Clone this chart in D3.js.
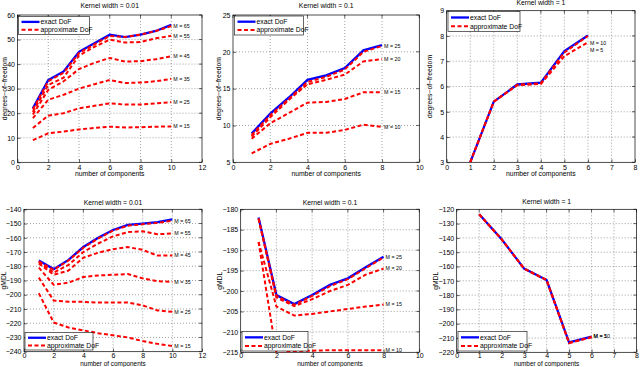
<!DOCTYPE html>
<html><head><meta charset="utf-8">
<script src="https://cdn.jsdelivr.net/npm/d3@7"></script>
<style>
body{margin:0;background:#fff;}
text{font-family:"Liberation Sans",Arial,sans-serif;fill:#000;}
</style></head>
<body><svg id="c" width="640" height="367"></svg>
<script>
// ---------- DATA ----------
const comps10 = [1,2,3,4,5,6,7,8,9,10];
const comps8 = [1,2,3,4,5,6,7,8];
const comps6 = [1,2,3,4,5,6];

// Panel 1: DoF, kernel width 0.01
const dof001Exact = [22, 33.5, 37, 45, 48.5, 52, 51, 52, 53.5, 56];
const dof001M65 = [21.5, 33, 36.5, 44.5, 48, 51.5, 51, 52, 53.5, 55.5];
const dof001M55 = [20.5, 31.5, 34.5, 43.5, 47, 50, 48.8, 49, 50.5, 51.5];
const dof001M45 = [19.5, 29.5, 33, 38, 40.5, 42.5, 41, 41.2, 42, 43.2];
const dof001M35 = [18, 25.5, 27.5, 30, 31.8, 33.5, 32.3, 32.5, 33, 34];
const dof001M25 = [14, 19, 20, 22, 23, 24, 23.5, 23.5, 24, 24.5];
const dof001M15 = [9, 11.8, 12.5, 13.4, 14, 14.5, 14.2, 14.3, 14.5, 14.6];
const labels001 = ["M = 65","M = 55","M = 45","M = 35","M = 25","M = 15"];

// Panel 2: DoF, kernel width 0.1
const dof01Exact = [8.9, 11.6, 13.8, 16.2, 16.8, 17.8, 20.2, 20.9];
const dof01M25 = [8.7, 11.4, 13.6, 15.9, 16.6, 17.6, 20.0, 20.8];
const dof01M20 = [8.5, 11.1, 13.5, 15.6, 16.2, 16.9, 18.7, 19.0];
const dof01M15 = [8.2, 10.3, 11.7, 13.1, 13.2, 13.6, 14.5, 14.5];
const dof01M10 = [6.2, 7.5, 8.2, 9.0, 9.0, 9.4, 10.1, 9.8];
const labels01 = ["M = 25","M = 20","M = 15","M = 10"];

// Panel 3: DoF, kernel width 1
const dof1Exact = [3, 5.4, 6.08, 6.15, 7.4, 8.02];
const dof1M10 = [3, 5.4, 6.07, 6.13, 7.35, 8.0];
const dof1M5 = [3, 5.4, 6.05, 6.1, 7.2, 7.75];

// Panel 4: gMDL, kernel width 0.01
const g001Exact = [-176, -182, -175.5, -166.5, -160, -154.5, -151, -150, -149, -147];
const g001M65 = [-176.5, -182.5, -176, -167, -160.5, -155, -151.5, -150.5, -149.5, -148];
const g001M55 = [-177, -184.5, -179, -170, -164, -159, -156, -155.5, -157.5, -157];
const g001M45 = [-178, -186, -183, -174, -170.5, -168, -166.5, -168.5, -172.5, -172.5];
const g001M35 = [-181, -193, -191.5, -187.5, -186.5, -186, -185.5, -188.5, -190.5, -191];
const g001M25 = [-188, -204, -205, -205, -205.5, -205.5, -205.5, -207.5, -211, -212];
const g001M15 = [-199, -219.5, -223, -225, -227, -228.5, -230, -232.5, -234.5, -236];

// Panel 5: gMDL, kernel width 0.1
const g01Exact = [-182, -201, -203.2, -201, -198.5, -196.9, -194.2, -191.6];
const g01M25 = [-182.2, -201.2, -203.4, -201.2, -198.8, -197.1, -194.4, -191.8];
const g01M20 = [-182.4, -201.6, -203.7, -202, -200, -198.5, -196, -194.5];
const g01M15 = [-188, -203.8, -206, -205.6, -205, -204.4, -203.8, -203.3];
const g01M10 = [-188, -215.4, -214.7, -214.6, -214.5, -214.5, -214.5, -214.5];

// Panel 6: gMDL, kernel width 1
const g1Exact = [-123.5, -141, -161.5, -169.5, -213, -209];
const g1M10 = [-123.5, -141, -161.5, -169.5, -213.5, -209.3];
const g1M5 = [-123.5, -141, -161.5, -169.5, -213.5, -209.5];

const titles = ["Kernel width = 0.01","Kernel width = 0.1","Kernel width = 1"];
const xLabel = "number of components";
const yLabelTop = "degrees\u2212of\u2212freedom";
const yLabelBottom = "gMDL";
const legendLabels = ["exact DoF","approximate DoF"];

// ---------- DRAW ----------
const svg = d3.select("#c");
const BLUE = "#0000ff", RED = "#ff0000";
let clipId = 0;

function panel(o){
  const x = d3.scaleLinear().domain(o.xd).range([o.x0, o.x1]);
  const y = d3.scaleLinear().domain(o.yd).range([o.y1, o.y0]);
  const g = svg.append("g");
  const xt = d3.range(o.xd[0], o.xd[1] + 1e-9, o.xs);
  const yt = d3.range(o.yd[0], o.yd[1] + 1e-9, o.ys);
  // grid
  g.selectAll(".gx").data(xt.slice(1,-1)).join("line")
    .attr("x1", d=>x(d)).attr("x2", d=>x(d)).attr("y1", o.y0).attr("y2", o.y1)
    .attr("stroke","#444").attr("stroke-width",0.5).attr("stroke-dasharray","1,2");
  g.selectAll(".gy").data(yt.slice(1,-1)).join("line")
    .attr("y1", d=>y(d)).attr("y2", d=>y(d)).attr("x1", o.x0).attr("x2", o.x1)
    .attr("stroke","#444").attr("stroke-width",0.5).attr("stroke-dasharray","1,2");
  // axes (ticks inward)
  const fmt = d => d3.format("")(d).replace("-", "\u2212");
  const ax = g.append("g").attr("transform",`translate(0,${o.y1})`)
    .call(d3.axisBottom(x).tickValues(xt).tickSize(-3).tickPadding(o.xPad).tickFormat(fmt));
  const ay = g.append("g").attr("transform",`translate(${o.x0},0)`)
    .call(d3.axisLeft(y).tickValues(yt).tickSize(-3).tickPadding(2.5).tickFormat(fmt));
  [ax, ay].forEach(a=>{
    a.select(".domain").remove();
    a.selectAll("line").attr("stroke","#000").attr("stroke-width",0.6);
    a.selectAll("text").attr("font-size",7).attr("font-family","Liberation Sans, Arial, sans-serif");
  });
  // top/right ticks
  g.selectAll(".tt").data(xt).join("line")
    .attr("x1", d=>x(d)).attr("x2", d=>x(d)).attr("y1", o.y0).attr("y2", o.y0+3)
    .attr("stroke","#000").attr("stroke-width",0.6);
  g.selectAll(".tr").data(yt).join("line")
    .attr("y1", d=>y(d)).attr("y2", d=>y(d)).attr("x1", o.x1).attr("x2", o.x1-3)
    .attr("stroke","#000").attr("stroke-width",0.6);
  // box
  g.append("rect").attr("x",o.x0).attr("y",o.y0).attr("width",o.x1-o.x0).attr("height",o.y1-o.y0)
    .attr("fill","none").attr("stroke","#000").attr("stroke-width",0.7);
  // clip
  const cid = "clip"+(clipId++);
  svg.append("clipPath").attr("id",cid).append("rect")
    .attr("x",o.x0).attr("y",o.y0).attr("width",o.x1-o.x0).attr("height",o.y1-o.y0);
  const lg = g.append("g").attr("clip-path",`url(#${cid})`);
  const line = d3.line().x((d,i)=>x(o.xs_data[i])).y(d=>y(d));
  lg.append("path").attr("d", line(o.exact)).attr("fill","none")
    .attr("stroke",BLUE).attr("stroke-width",2.3);
  o.approx.forEach(s=>{
    lg.append("path").attr("d", line(s)).attr("fill","none")
      .attr("stroke",RED).attr("stroke-width",2).attr("stroke-dasharray","4,2.5");
  });
  // end labels
  const lastX = o.xs_data[o.xs_data.length-1];
  o.labels.forEach((lab,i)=>{
    const s = o.approx[i];
    const yy = o.labelY ? o.labelY[i] : y(s[s.length-1]);
    g.append("text").attr("x", x(lastX)+2).attr("y", yy).attr("dy","0.35em")
      .attr("font-size",5.3).text(lab);
  });
  // title, labels
  g.append("text").attr("x",(o.x0+o.x1)/2).attr("y",o.titleY).attr("text-anchor","middle")
    .attr("dy","0.35em").attr("font-size",6.8).text(o.title);
  g.append("text").attr("x",(o.x0+o.x1)/2).attr("y",o.y1+o.xlOff).attr("text-anchor","middle")
    .attr("dy","0.35em").attr("font-size",o.xlFs).text(xLabel);
  g.append("text").attr("transform",`translate(${o.ylx},${(o.y0+o.y1)/2}) rotate(-90)`)
    .attr("text-anchor","middle").attr("dy","0.35em").attr("font-size",6.8).text(o.ylab);
  // legend
  const L = o.leg;
  g.append("rect").attr("x",L[0]).attr("y",L[1]).attr("width",L[2]).attr("height",L[3])
    .attr("fill","#fff").attr("stroke","#000").attr("stroke-width",0.6);
  const r1 = L[1]+L[3]*0.3, r2 = L[1]+L[3]*0.74;
  g.append("line").attr("x1",L[0]+3).attr("x2",L[0]+21).attr("y1",r1).attr("y2",r1)
    .attr("stroke",BLUE).attr("stroke-width",2.3);
  g.append("line").attr("x1",L[0]+3).attr("x2",L[0]+21).attr("y1",r2).attr("y2",r2)
    .attr("stroke",RED).attr("stroke-width",2).attr("stroke-dasharray","4,2.5");
  g.append("text").attr("x",L[0]+22).attr("y",r1).attr("dy","0.35em").attr("font-size",6.8).text(legendLabels[0]);
  g.append("text").attr("x",L[0]+22).attr("y",r2).attr("dy","0.35em").attr("font-size",6.8).text(legendLabels[1]);
}

panel({x0:17.5,x1:202,y0:15,y1:162.3,xd:[0,12],xs:2,yd:[0,60],ys:10,xs_data:comps10,
  exact:dof001Exact,approx:[dof001M65,dof001M55,dof001M45,dof001M35,dof001M25,dof001M15],
  labels:labels001,title:titles[0],titleY:6,xPad:2.5,xlOff:11,xlFs:6.8,ylab:yLabelTop,ylx:4.5,leg:[18.5,16.5,71,18]});
panel({x0:233,x1:419.3,y0:15,y1:162.3,xd:[0,10],xs:2,yd:[5,25],ys:5,xs_data:comps8,
  exact:dof01Exact,approx:[dof01M25,dof01M20,dof01M15,dof01M10],
  labels:labels01,title:titles[1],titleY:6,xPad:2.5,xlOff:11,xlFs:6.8,ylab:yLabelTop,ylx:219,leg:[234.5,16,69,19]});
panel({x0:446.7,x1:635,y0:10.7,y1:162.3,xd:[0,8],xs:1,yd:[3,9],ys:1,xs_data:comps6,
  exact:dof1Exact,approx:[dof1M10,dof1M5],
  labels:["M = 10","M = 5"],labelY:[43,50],title:titles[2],titleY:3,xPad:2.5,xlOff:11,xlFs:6.8,ylab:yLabelTop,ylx:430,leg:[448,11.5,72,20]});
panel({x0:24,x1:202,y0:209.3,y1:351.7,xd:[0,12],xs:2,yd:[-240,-140],ys:10,xs_data:comps10,
  exact:g001Exact,approx:[g001M65,g001M55,g001M45,g001M35,g001M25,g001M15],
  labels:labels001,title:titles[0],titleY:203,xPad:1.2,xlOff:11.6,xlFs:6.4,ylab:yLabelBottom,ylx:3.5,leg:[25,332.5,68,17.5]});
panel({x0:240.7,x1:419.3,y0:209.3,y1:352.3,xd:[0,10],xs:2,yd:[-215,-180],ys:5,xs_data:comps8,
  exact:g01Exact,approx:[g01M25,g01M20,g01M15,g01M10],
  labels:labels01,title:titles[1],titleY:203,xPad:1.2,xlOff:11,xlFs:6.4,ylab:yLabelBottom,ylx:219.5,leg:[242,331.5,66,19.5]});
panel({x0:456.7,x1:636.5,y0:209.3,y1:352.3,xd:[0,8],xs:1,yd:[-220,-120],ys:10,xs_data:comps6,
  exact:g1Exact,approx:[g1M10,g1M5],
  labels:["M = 10","M = 5"],labelY:[336.5,336.5],title:titles[2],titleY:202,xPad:1.2,xlOff:11,xlFs:6.4,ylab:yLabelBottom,ylx:436,leg:[458,331.5,69,19.5]});
</script></body></html>
